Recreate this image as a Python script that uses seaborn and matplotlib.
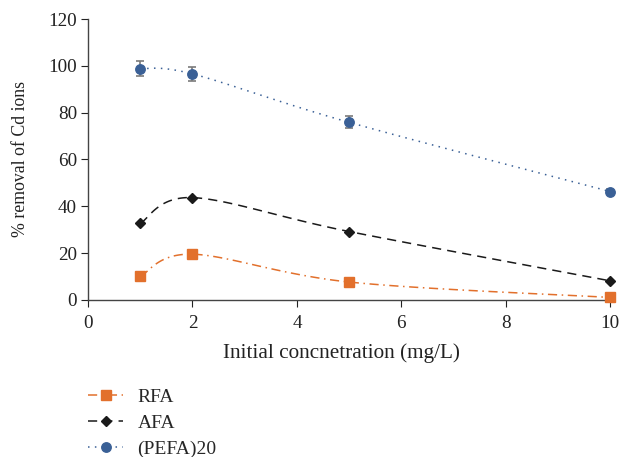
import numpy as np
import pandas as pd
import matplotlib
matplotlib.use("Agg")
import matplotlib.pyplot as plt
from matplotlib.lines import Line2D
import seaborn as sns

conc = [1, 2, 5, 10]
rfa = [10.0, 19.5, 7.6, 1.0]
afa = [32.7, 43.7, 29.2, 8.1]
pefa = [98.9, 96.6, 75.9, 46.3]
pefa_err = [3.2, 3.0, 2.6, 1.0]
series_names = ["RFA", "AFA", "(PEFA)20"]
x_ticks = [0, 2, 4, 6, 8, 10]
y_ticks = [0, 20, 40, 60, 80, 100, 120]


def smooth(xs, ys, n=40):
    """Excel-like smoothed line (cubic Bezier, Catmull-Rom control points)."""
    P = np.column_stack([xs, ys]).astype(float)
    out = []
    for i in range(len(P) - 1):
        p0 = P[i - 1] if i > 0 else P[i]
        p1, p2 = P[i], P[i + 1]
        p3 = P[i + 2] if i + 2 < len(P) else P[i + 1]
        c1 = p1 + (p2 - p0) / 6.0
        c2 = p2 - (p3 - p1) / 6.0
        t = np.linspace(0, 1, n)[:, None]
        seg = ((1 - t) ** 3) * p1 + 3 * ((1 - t) ** 2) * t * c1 + 3 * (1 - t) * t ** 2 * c2 + t ** 3 * p2
        out.append(seg if i == 0 else seg[1:])
    return np.vstack(out)


sns.set_style("ticks")
plt.rcParams["font.family"] = ["Liberation Serif", "DejaVu Serif"]

fig = plt.figure(figsize=(6.22, 4.57), dpi=100)
ax = fig.add_axes([0.1415, 0.344, 0.8395, 0.614])

orange = "#E2702C"
black = "#1A1A1A"
blue = "#3A6096"

styles = [
    (rfa, orange, (0, (6, 3, 1, 3)), "s", 6.7),
    (afa, black, (0, (6, 4)), "D", 5.2),
    (pefa, blue, (0, (1, 3.5)), "o", 6.8),
]

handles = []
for (vals, col, ls, mk, ms), name in zip(styles, series_names):
    curve = smooth(conc, vals)
    df = pd.DataFrame({"x": curve[:, 0], "y": curve[:, 1]})
    sns.lineplot(data=df, x="x", y="y", sort=False, color=col, linewidth=1.1,
                 linestyle=ls, ax=ax, estimator=None)
    if name == "(PEFA)20":
        ax.errorbar(conc, vals, yerr=pefa_err, fmt="none", ecolor="#7a7a7a",
                    elinewidth=1.2, capsize=3, capthick=1.2, zorder=3)
    ax.plot(conc, vals, linestyle="none", marker=mk, markersize=ms, color=col,
            markeredgecolor=col, zorder=4, clip_on=False)
    handles.append(Line2D([0], [0], color=col, linestyle=ls, linewidth=1.1,
                          marker=mk, markersize=ms, markeredgecolor=col))

ax.set_xlim(0, 10)
ax.set_ylim(0, 120)
ax.set_xticks(x_ticks)
ax.set_yticks(y_ticks)
ax.tick_params(axis="both", labelsize=13.8, colors="#222222", length=5, width=0.8,
               direction="out")
ax.tick_params(axis="x", pad=6)
ax.tick_params(axis="y", pad=3)
for sp in ["top", "right"]:
    ax.spines[sp].set_visible(False)
for sp in ["left", "bottom"]:
    ax.spines[sp].set_color("#444444")
    ax.spines[sp].set_linewidth(1.0)

ax.set_xlabel("Initial concnetration (mg/L)", fontsize=15.3, color="#222222")
ax.xaxis.set_label_coords(0.485, -0.155)
ax.set_ylabel("% removal of Cd ions", fontsize=12.8, color="#222222")
ax.yaxis.set_label_coords(-0.113, 0.5)

fig.legend(handles, series_names, loc="upper left", bbox_to_anchor=(0.1415, 0.151),
           frameon=False, fontsize=14, handlelength=1.8, handletextpad=0.75,
           labelspacing=0.43, borderpad=0, borderaxespad=0)

fig.savefig("out.png", dpi=100)
